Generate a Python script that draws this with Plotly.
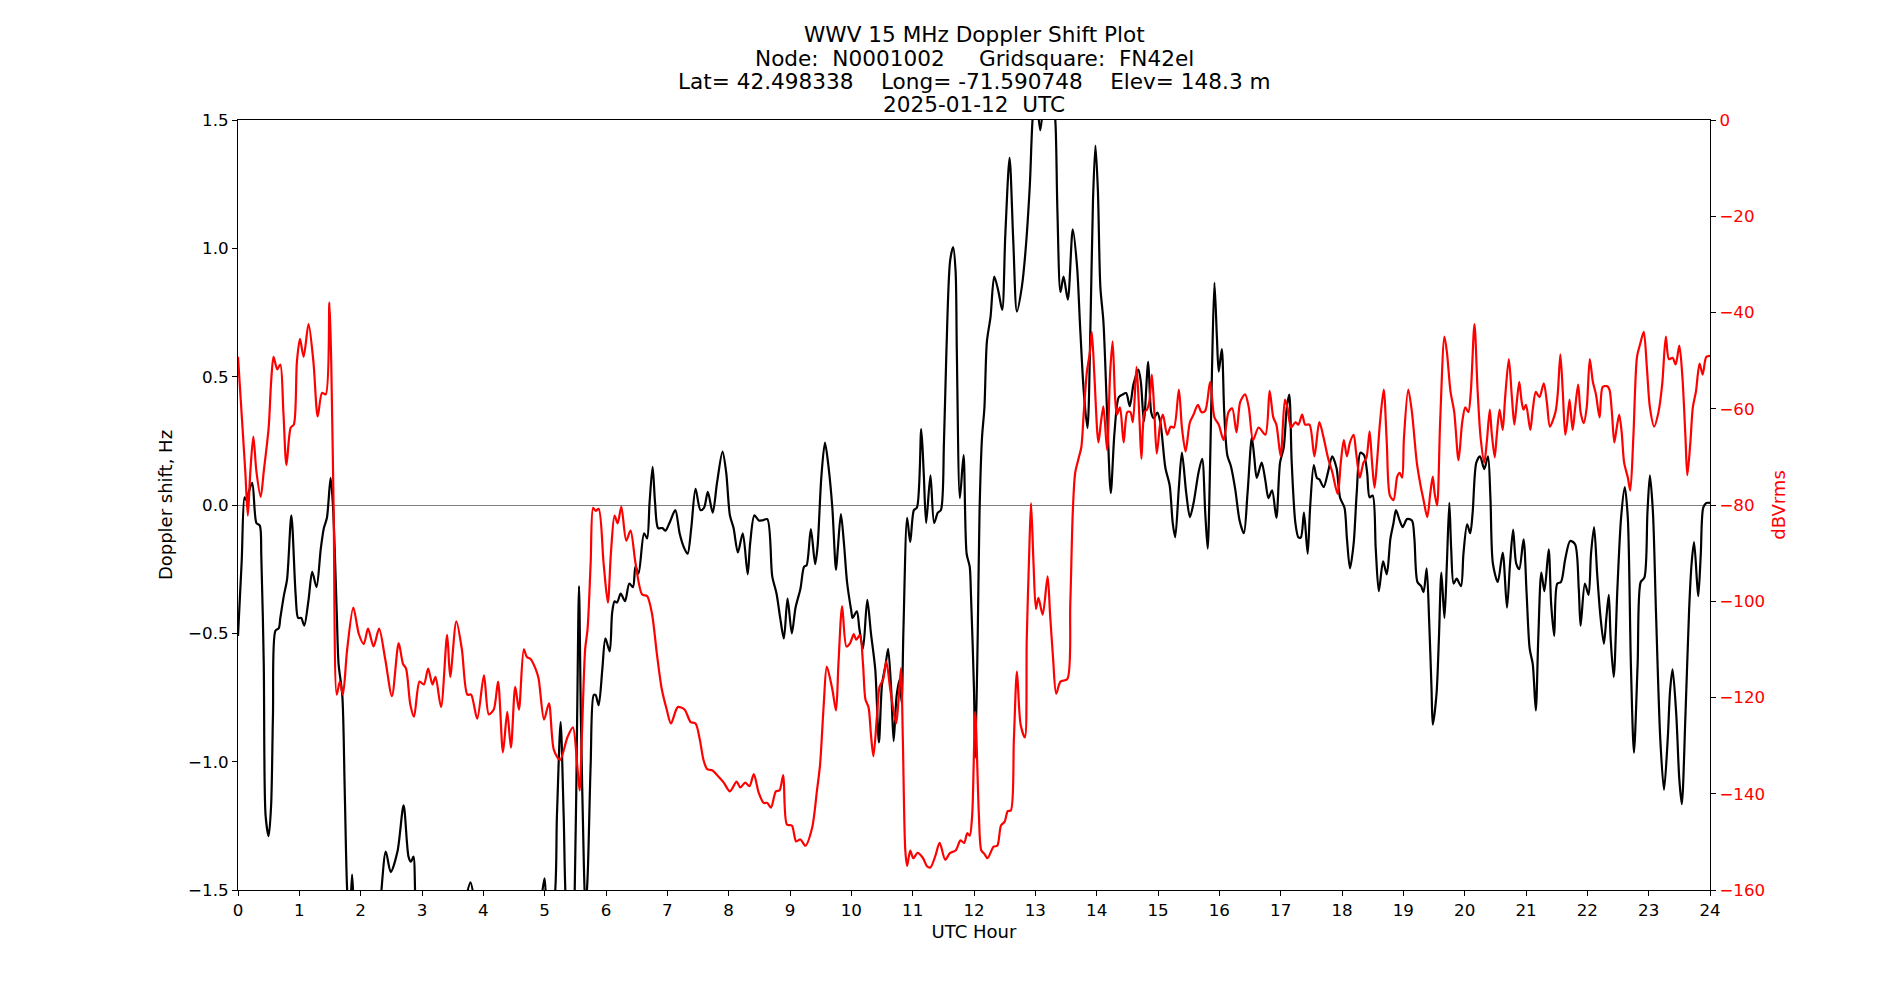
import plotly.graph_objects as go

# ---------------- data ----------------
doppler_hours = [
    0.00, 0.06, 0.106, 0.13, 0.23, 0.30, 0.355, 0.38, 0.42, 0.45, 0.50, 0.54, 0.57, 0.61, 0.665,
    0.69, 0.75, 0.80, 0.87, 0.94, 0.98, 1.03, 1.08, 1.15, 1.21, 1.28, 1.35, 1.40, 1.45, 1.51,
    1.55, 1.61, 1.64, 1.70, 1.74, 1.78, 1.82, 1.86, 1.90, 2.00, 2.20, 2.32, 2.41, 2.49, 2.60,
    2.70, 2.78, 2.82, 2.86, 2.90, 3.00, 3.50, 3.70, 3.79, 3.86, 4.00, 4.50, 4.60, 4.70, 4.90,
    4.998, 5.05, 5.15, 5.20, 5.26, 5.31, 5.36, 5.45, 5.49, 5.53, 5.56, 5.59, 5.64, 5.665, 5.70,
    5.75, 5.80, 5.83, 5.88, 5.94, 5.99, 6.06, 6.10, 6.14, 6.18, 6.24, 6.31, 6.38, 6.44, 6.48,
    6.53, 6.62, 6.67, 6.71, 6.76, 6.80, 6.85, 6.92, 6.97, 7.04, 7.13, 7.20, 7.27, 7.33, 7.39,
    7.46, 7.54, 7.60, 7.66, 7.74, 7.81, 7.90, 7.96, 8.02, 8.08, 8.15, 8.23, 8.31, 8.35, 8.42,
    8.49, 8.55, 8.63, 8.71, 8.78, 8.84, 8.90, 8.96, 9.03, 9.09, 9.17, 9.23, 9.27, 9.34, 9.41,
    9.45, 9.51, 9.57, 9.63, 9.69, 9.75, 9.78, 9.83, 9.88, 9.93, 10.00, 10.02, 10.09, 10.13, 10.19,
    10.26, 10.32, 10.39, 10.45, 10.50, 10.56, 10.60, 10.65, 10.69, 10.74, 10.79, 10.82, 10.85, 10.91, 10.96,
    11.02, 11.07, 11.14, 11.18, 11.22, 11.29, 11.35, 11.41, 11.46, 11.51, 11.55, 11.61, 11.66, 11.70, 11.72,
    11.77, 11.83, 11.88, 11.93, 11.95, 12.00, 12.02, 12.06, 12.09, 12.13, 12.17, 12.21, 12.27, 12.33, 12.40,
    12.46, 12.51, 12.58, 12.64, 12.70, 12.78, 12.84, 12.91, 12.96, 13.01, 13.08, 13.15, 13.22, 13.29, 13.33,
    13.36, 13.41, 13.46, 13.53, 13.61, 13.68, 13.73, 13.79, 13.85, 13.90, 13.94, 13.98, 14.02, 14.06, 14.11,
    14.17, 14.23, 14.29, 14.36, 14.42, 14.48, 14.54, 14.60, 14.68, 14.72, 14.77, 14.84, 14.89, 14.93, 14.99,
    15.04, 15.12, 15.19, 15.24, 15.28, 15.34, 15.39, 15.46, 15.52, 15.58, 15.66, 15.72, 15.77, 15.81, 15.85,
    15.88, 15.92, 15.96, 15.99, 16.04, 16.08, 16.13, 16.19, 16.26, 16.33, 16.40, 16.46, 16.53, 16.57, 16.61,
    16.69, 16.75, 16.80, 16.86, 16.93, 16.99, 17.05, 17.10, 17.14, 17.18, 17.24, 17.29, 17.33, 17.38, 17.44,
    17.48, 17.54, 17.59, 17.63, 17.70, 17.77, 17.84, 17.91, 17.97, 18.04, 18.08, 18.13, 18.19, 18.24, 18.30,
    18.36, 18.41, 18.45, 18.50, 18.55, 18.60, 18.67, 18.73, 18.79, 18.84, 18.88, 18.94, 18.99, 19.06, 19.14,
    19.18, 19.23, 19.29, 19.33, 19.38, 19.42, 19.46, 19.48, 19.54, 19.58, 19.62, 19.67, 19.71, 19.75, 19.78,
    19.82, 19.87, 19.94, 19.98, 20.04, 20.09, 20.13, 20.19, 20.25, 20.32, 20.38, 20.42, 20.46, 20.54, 20.62,
    20.69, 20.74, 20.79, 20.84, 20.89, 20.96, 21.01, 21.06, 21.11, 21.16, 21.20, 21.25, 21.30, 21.37, 21.41,
    21.46, 21.51, 21.57, 21.64, 21.72, 21.80, 21.86, 21.89, 21.96, 22.02, 22.06, 22.11, 22.16, 22.21, 22.27,
    22.31, 22.35, 22.38, 22.43, 22.49, 22.55, 22.61, 22.66, 22.71, 22.76, 22.82, 22.87, 22.93, 22.98, 23.02,
    23.07, 23.12, 23.19, 23.25, 23.31, 23.35, 23.39, 23.45, 23.50, 23.54, 23.60, 23.66, 23.70, 23.74, 23.79,
    23.81, 23.85, 23.89, 23.94, 24.00,
]
doppler_hz = [
    -0.51, -0.22, 0.03, 0.02, 0.086, -0.07, -0.08, -0.20, -0.62, -1.21, -1.29, -1.17, -0.82, -0.49, -0.48,
    -0.44, -0.35, -0.29, -0.04, -0.35, -0.44, -0.44, -0.47, -0.37, -0.26, -0.32, -0.17, -0.09, -0.05, 0.106,
    -0.01, -0.42, -0.62, -0.74, -1.11, -1.50, -1.62, -1.44, -1.62, -1.80, -1.80, -1.55, -1.35, -1.43, -1.35,
    -1.17, -1.37, -1.39, -1.37, -1.60, -1.80, -1.80, -1.55, -1.47, -1.55, -1.80, -1.70, -1.51, -1.70, -1.60,
    -1.455, -1.60, -1.55, -1.21, -0.846, -1.21, -1.60, -1.70, -1.50, -0.82, -0.316, -0.82, -1.41, -1.58, -1.45,
    -1.01, -0.74, -0.74, -0.78, -0.64, -0.52, -0.57, -0.42, -0.375, -0.38, -0.345, -0.375, -0.306, -0.32, -0.24,
    -0.267, -0.11, -0.13, 0.008, 0.149, 0.008, -0.09, -0.09, -0.10, -0.067, -0.02, -0.11, -0.165, -0.19, -0.09,
    0.063, -0.02, -0.01, 0.051, -0.03, 0.086, 0.208, 0.126, -0.04, -0.09, -0.185, -0.11, -0.27, -0.15, -0.04,
    -0.06, -0.06, -0.055, -0.277, -0.345, -0.44, -0.52, -0.365, -0.50, -0.40, -0.326, -0.24, -0.235, -0.094, -0.23,
    -0.16, 0.106, 0.243, 0.145, -0.01, -0.253, -0.17, -0.035, -0.15, -0.30, -0.414, -0.44, -0.414, -0.48, -0.56,
    -0.37, -0.50, -0.64, -0.925, -0.70, -0.62, -0.56, -0.72, -0.92, -0.74, -0.68, -0.77, -0.48, -0.05, -0.145,
    -0.02, -0.01, 0.296, 0.126, -0.07, 0.116, -0.07, -0.03, -0.02, 0.243, 0.597, 0.95, 1.005, 0.91, 0.597,
    0.027, 0.194, -0.19, -0.24, -0.345, -0.72, -0.985, -0.52, -0.03, 0.26, 0.38, 0.636, 0.734, 0.89, 0.83,
    0.76, 1.05, 1.353, 1.03, 0.754, 0.85, 0.99, 1.245, 1.52, 1.60, 1.46, 1.60, 1.65, 1.60, 1.48,
    1.147, 0.83, 0.89, 0.80, 1.074, 0.93, 0.695, 0.44, 0.30, 0.715, 1.186, 1.40, 1.225, 0.85, 0.715,
    0.36, 0.047, 0.28, 0.42, 0.43, 0.436, 0.385, 0.47, 0.528, 0.48, 0.326, 0.558, 0.36, 0.338, 0.36,
    0.32, 0.145, 0.077, -0.07, -0.126, 0.067, 0.204, 0.047, -0.047, 0.008, 0.126, 0.18, -0.03, -0.17, 0.165,
    0.52, 0.866, 0.656, 0.52, 0.607, 0.36, 0.194, 0.15, 0.06, -0.06, -0.11, 0.047, 0.263, 0.185, 0.106,
    0.165, 0.096, 0.027, 0.057, -0.05, 0.165, 0.224, 0.38, 0.43, 0.165, -0.07, -0.126, -0.126, -0.03, -0.19,
    -0.01, 0.155, 0.106, 0.10, 0.07, 0.126, 0.19, 0.145, 0.027, -0.01, -0.13, -0.247, -0.15, 0.047, 0.204,
    0.194, 0.126, 0.03, 0.037, -0.17, -0.336, -0.22, -0.27, -0.13, -0.07, -0.02, -0.06, -0.086, -0.055, -0.06,
    -0.13, -0.30, -0.316, -0.34, -0.247, -0.444, -0.72, -0.856, -0.74, -0.52, -0.263, -0.44, -0.228, 0.008, -0.17,
    -0.306, -0.287, -0.316, -0.19, -0.075, -0.11, -0.03, 0.165, 0.19, 0.14, 0.19, 0.027, -0.228, -0.30, -0.185,
    -0.40, -0.228, -0.096, -0.228, -0.25, -0.134, -0.345, -0.56, -0.62, -0.80, -0.52, -0.263, -0.336, -0.173, -0.385,
    -0.51, -0.306, -0.30, -0.21, -0.14, -0.153, -0.326, -0.47, -0.306, -0.35, -0.19, -0.086, -0.267, -0.424, -0.54,
    -0.44, -0.35, -0.52, -0.67, -0.326, -0.05, 0.07, -0.05, -0.62, -0.965, -0.62, -0.30, -0.283, -0.03, 0.116,
    -0.03, -0.424, -0.915, -1.11, -0.915, -0.72, -0.64, -0.817, -1.07, -1.166, -0.817, -0.405, -0.228, -0.145, -0.306,
    -0.355, -0.19, -0.01, 0.008, 0.008,
]

level_hours = [
    0.00, 0.068, 0.12, 0.16, 0.20, 0.25, 0.30, 0.37, 0.42, 0.50, 0.54, 0.58, 0.64, 0.69, 0.74,
    0.79, 0.86, 0.91, 0.96, 1.01, 1.07, 1.15, 1.23, 1.30, 1.37, 1.43, 1.49, 1.52, 1.56, 1.61,
    1.66, 1.71, 1.78, 1.88, 1.97, 2.05, 2.12, 2.21, 2.30, 2.40, 2.51, 2.62, 2.69, 2.74, 2.81,
    2.87, 2.96, 3.03, 3.10, 3.17, 3.22, 3.31, 3.41, 3.46, 3.56, 3.65, 3.74, 3.80, 3.90, 4.01,
    4.09, 4.17, 4.24, 4.32, 4.39, 4.45, 4.52, 4.58, 4.66, 4.71, 4.77, 4.85, 4.90, 4.99, 5.07,
    5.15, 5.25, 5.37, 5.46, 5.53, 5.57, 5.61, 5.66, 5.70, 5.75, 5.79, 5.83, 5.88, 5.96, 6.03,
    6.08, 6.14, 6.19, 6.25, 6.33, 6.40, 6.48, 6.59, 6.67, 6.75, 6.83, 6.91, 6.99, 7.06, 7.17,
    7.28, 7.38, 7.46, 7.53, 7.59, 7.65, 7.73, 7.81, 7.92, 8.02, 8.13, 8.19, 8.27, 8.34, 8.41,
    8.49, 8.57, 8.63, 8.69, 8.77, 8.83, 8.89, 8.95, 9.03, 9.10, 9.17, 9.25, 9.36, 9.44, 9.49,
    9.55, 9.60, 9.69, 9.75, 9.79, 9.85, 9.92, 9.98, 10.04, 10.08, 10.14, 10.19, 10.23, 10.28, 10.32,
    10.36, 10.42, 10.46, 10.52, 10.57, 10.64, 10.73, 10.77, 10.81, 10.84, 10.88, 10.91, 10.96, 11.01, 11.08,
    11.17, 11.23, 11.29, 11.37, 11.44, 11.53, 11.61, 11.70, 11.78, 11.84, 11.89, 11.93, 11.97, 12.02, 12.08,
    12.12, 12.17, 12.22, 12.32, 12.38, 12.44, 12.50, 12.55, 12.60, 12.65, 12.70, 12.76, 12.83, 12.86, 12.90,
    12.93, 12.97, 13.01, 13.05, 13.12, 13.20, 13.24, 13.29, 13.34, 13.41, 13.52, 13.57, 13.61, 13.65, 13.71,
    13.75, 13.79, 13.84, 13.89, 13.92, 13.96, 14.01, 14.03, 14.07, 14.11, 14.17, 14.22, 14.26, 14.30, 14.33,
    14.38, 14.44, 14.50, 14.55, 14.59, 14.65, 14.70, 14.73, 14.78, 14.82, 14.86, 14.90, 14.94, 14.98, 15.04,
    15.08, 15.15, 15.21, 15.26, 15.34, 15.39, 15.45, 15.52, 15.58, 15.65, 15.71, 15.77, 15.85, 15.92, 15.99,
    16.07, 16.15, 16.21, 16.28, 16.34, 16.42, 16.48, 16.55, 16.64, 16.75, 16.82, 16.88, 16.93, 17.00, 17.07,
    17.11, 17.17, 17.24, 17.29, 17.35, 17.40, 17.47, 17.55, 17.63, 17.70, 17.77, 17.84, 17.93, 17.98, 18.03,
    18.08, 18.13, 18.19, 18.23, 18.29, 18.35, 18.40, 18.45, 18.49, 18.53, 18.57, 18.62, 18.68, 18.73, 18.78,
    18.84, 18.90, 18.94, 18.98, 19.01, 19.08, 19.14, 19.22, 19.28, 19.33, 19.39, 19.44, 19.48, 19.51, 19.55,
    19.60, 19.67, 19.71, 19.77, 19.83, 19.90, 19.96, 20.01, 20.06, 20.10, 20.16, 20.21, 20.26, 20.32, 20.36,
    20.41, 20.44, 20.49, 20.52, 20.57, 20.62, 20.66, 20.72, 20.77, 20.81, 20.85, 20.89, 20.93, 20.96, 21.00,
    21.07, 21.11, 21.16, 21.22, 21.29, 21.34, 21.39, 21.48, 21.52, 21.56, 21.60, 21.64, 21.67, 21.71, 21.76,
    21.80, 21.85, 21.89, 21.94, 21.99, 22.04, 22.09, 22.14, 22.20, 22.25, 22.32, 22.36, 22.40, 22.44, 22.48,
    22.52, 22.56, 22.60, 22.66, 22.70, 22.75, 22.81, 22.86, 22.92, 22.97, 23.02, 23.09, 23.16, 23.22, 23.28,
    23.33, 23.39, 23.44, 23.50, 23.55, 23.60, 23.63, 23.68, 23.72, 23.77, 23.83, 23.88, 23.94, 24.00,
]
level_dbv = [
    -49.2, -62.8, -73.3, -82.2, -73.3, -65.8, -73.0, -78.3, -73.0, -63.9, -54.4, -49.2, -51.8, -50.8, -60.7,
    -71.7, -63.9, -63.3, -50.3, -45.5, -49.2, -42.4, -50.3, -61.6, -56.7, -57.0, -37.9, -50.3, -81.7, -119.4,
    -116.7, -119.4, -110.0, -101.3, -106.8, -108.9, -105.7, -109.4, -105.7, -112.0, -119.7, -108.7, -113.0, -114.0, -121.5,
    -124.0, -116.7, -117.3, -114.0, -117.3, -115.7, -122.0, -107.0, -115.7, -104.2, -110.0, -119.4, -119.4, -124.4, -115.4,
    -123.5, -122.5, -116.7, -131.4, -123.0, -130.4, -117.8, -122.5, -110.0, -111.6, -112.0, -114.0, -116.0, -124.6, -121.2,
    -130.9, -133.0, -128.3, -126.2, -134.0, -139.3, -126.7, -110.0, -105.7, -92.0, -80.6, -81.2, -80.8, -92.0, -100.3,
    -90.0, -82.2, -83.8, -80.4, -87.4, -85.3, -92.0, -98.6, -98.9, -102.6, -111.0, -118.3, -122.5, -125.4, -122.0,
    -122.5, -125.1, -125.4, -128.8, -133.0, -134.9, -135.1, -136.1, -137.7, -139.5, -137.5, -138.7, -137.7, -138.4, -135.9,
    -139.8, -141.9, -141.9, -142.9, -139.5, -139.3, -136.1, -146.4, -146.6, -149.9, -149.5, -150.8, -147.1, -139.3, -134.0,
    -121.5, -113.6, -118.3, -122.7, -113.0, -101.0, -109.4, -108.7, -106.8, -108.0, -107.0, -113.0, -120.4, -122.0, -127.7,
    -132.2, -123.5, -117.8, -116.2, -112.5, -118.8, -125.4, -120.4, -113.9, -128.8, -151.8, -155.0, -151.8, -153.4, -152.3,
    -153.4, -155.0, -155.3, -152.9, -150.2, -153.7, -152.3, -151.8, -149.7, -150.2, -148.2, -148.7, -144.5, -123.0, -144.5,
    -151.8, -152.5, -153.4, -151.0, -150.8, -146.6, -145.8, -143.6, -143.5, -128.8, -114.6, -125.6, -128.3, -107.8, -90.0,
    -79.6, -92.0, -101.6, -99.3, -102.8, -94.8, -102.6, -112.0, -119.2, -116.7, -116.2, -100.5, -81.7, -73.3, -70.1,
    -68.0, -60.7, -52.4, -48.2, -44.0, -52.4, -64.9, -67.0, -62.8, -59.5, -68.6, -52.4, -46.0, -57.6, -61.2,
    -59.7, -67.0, -60.7, -60.7, -62.8, -51.3, -62.8, -70.4, -60.7, -60.2, -58.4, -52.9, -60.7, -69.3, -62.8,
    -61.2, -65.4, -63.7, -63.9, -56.0, -63.9, -68.9, -62.8, -61.2, -59.2, -60.7, -60.4, -54.4, -61.8, -63.3,
    -66.5, -60.7, -59.9, -64.9, -58.6, -57.0, -59.7, -66.5, -63.9, -65.4, -56.3, -61.8, -63.3, -69.9, -58.1,
    -59.7, -63.9, -62.8, -63.3, -61.2, -63.3, -63.3, -69.9, -62.8, -66.0, -70.1, -73.1, -77.7, -71.2, -66.5,
    -69.9, -67.0, -65.4, -69.1, -74.3, -71.2, -70.1, -64.7, -71.2, -76.4, -71.2, -62.8, -56.0, -67.0, -78.0,
    -79.0, -74.1, -73.3, -74.3, -66.0, -56.0, -60.7, -71.2, -75.9, -79.0, -82.5, -77.5, -74.1, -77.5, -80.1,
    -62.8, -45.0, -48.2, -56.5, -60.7, -70.7, -62.8, -59.7, -60.7, -56.5, -42.4, -56.0, -66.0, -71.2, -67.0,
    -60.2, -64.9, -70.1, -66.0, -60.2, -64.4, -57.6, -49.7, -57.6, -63.3, -58.6, -54.4, -58.6, -60.2, -59.2,
    -64.4, -60.2, -56.5, -57.6, -54.7, -58.6, -63.7, -60.7, -56.5, -48.7, -56.5, -65.4, -63.0, -58.1, -64.4,
    -60.0, -55.0, -60.7, -63.0, -59.7, -49.7, -54.4, -57.0, -61.8, -55.5, -55.3, -56.0, -60.7, -67.0, -63.9,
    -61.2, -64.9, -71.2, -74.3, -77.0, -66.0, -49.2, -46.6, -44.0, -51.3, -59.7, -63.7, -60.7, -55.0, -45.0,
    -49.7, -49.4, -50.8, -46.9, -53.4, -66.0, -73.8, -67.0, -59.7, -56.5, -50.6, -52.9, -49.2, -49.0,
]

hour_ticks = list(range(0, 25))
doppler_ticks = [-1.5, -1.0, -0.5, 0.0, 0.5, 1.0, 1.5]
dbv_ticks = [-160, -140, -120, -100, -80, -60, -40, -20, 0]

title_lines = [
    "WWV 15 MHz Doppler Shift Plot",
    "Node:  N0001002     Gridsquare:  FN42el",
    "Lat= 42.498338    Long= -71.590748    Elev= 148.3 m",
    "2025-01-12  UTC",
]

# ---------------- figure ----------------
FONT = "DejaVu Sans"
TICK_SIZE = 16.7
LABEL_SIZE = 18
TITLE_SIZE = 21.6


def fmt(v, nd):
    s = f"{abs(v):.{nd}f}"
    return ("\u2212" + s) if v < 0 else s


fig = go.Figure()
fig.add_trace(go.Scatter(
    x=doppler_hours, y=doppler_hz, mode="lines",
    line=dict(color="black", width=2.2, shape="spline", smoothing=0.8),
    yaxis="y", showlegend=False, hoverinfo="skip",
))
fig.add_trace(go.Scatter(
    x=level_hours, y=level_dbv, mode="lines",
    line=dict(color="#ff0000", width=2.2, shape="spline", smoothing=0.8),
    yaxis="y2", showlegend=False, hoverinfo="skip",
))

axis_common = dict(
    showgrid=False, ticks="outside", ticklen=5, tickwidth=1.1, tickcolor="black",
    showline=True, linecolor="black", linewidth=1.1,
)

fig.update_layout(
    width=1900, height=1000,
    margin=dict(l=237.5, r=190, t=120, b=110, pad=0),
    paper_bgcolor="white", plot_bgcolor="white",
    font=dict(family=FONT, color="black", size=TICK_SIZE),
    showlegend=False,
    xaxis=dict(
        **axis_common, range=[0, 24], tickvals=hour_ticks,
        ticktext=[str(h) for h in hour_ticks], mirror=True, zeroline=False,
        tickfont=dict(family=FONT, size=TICK_SIZE, color="black"),
        title=dict(text="UTC Hour", font=dict(family=FONT, size=LABEL_SIZE, color="black"), standoff=6),
    ),
    yaxis=dict(
        **axis_common, range=[-1.5, 1.5], tickvals=doppler_ticks,
        ticktext=[fmt(v, 1) for v in doppler_ticks],
        zeroline=True, zerolinecolor="#808080", zerolinewidth=1.2,
        tickfont=dict(family=FONT, size=TICK_SIZE, color="black"),
        title=dict(text="Doppler shift, Hz", font=dict(family=FONT, size=LABEL_SIZE, color="black"), standoff=10),
    ),
    yaxis2=dict(
        **axis_common, range=[-160, 0], tickvals=dbv_ticks,
        ticktext=[fmt(v, 0) for v in dbv_ticks],
        overlaying="y", side="right", zeroline=False,
        tickfont=dict(family=FONT, size=TICK_SIZE, color="#ff0000"),
        title=dict(text="dBVrms", font=dict(family=FONT, size=LABEL_SIZE, color="#ff0000"), standoff=8),
    ),
)

# title: four centred lines above the axes
title_y = [1.1104, 1.0805, 1.0502, 1.0198]
for txt, yy in zip(title_lines, title_y):
    fig.add_annotation(
        text=txt, xref="paper", yref="paper", x=0.5, y=yy,
        xanchor="center", yanchor="middle", showarrow=False,
        font=dict(family=FONT, size=TITLE_SIZE, color="black"),
    )

fig.write_html("out.html")
